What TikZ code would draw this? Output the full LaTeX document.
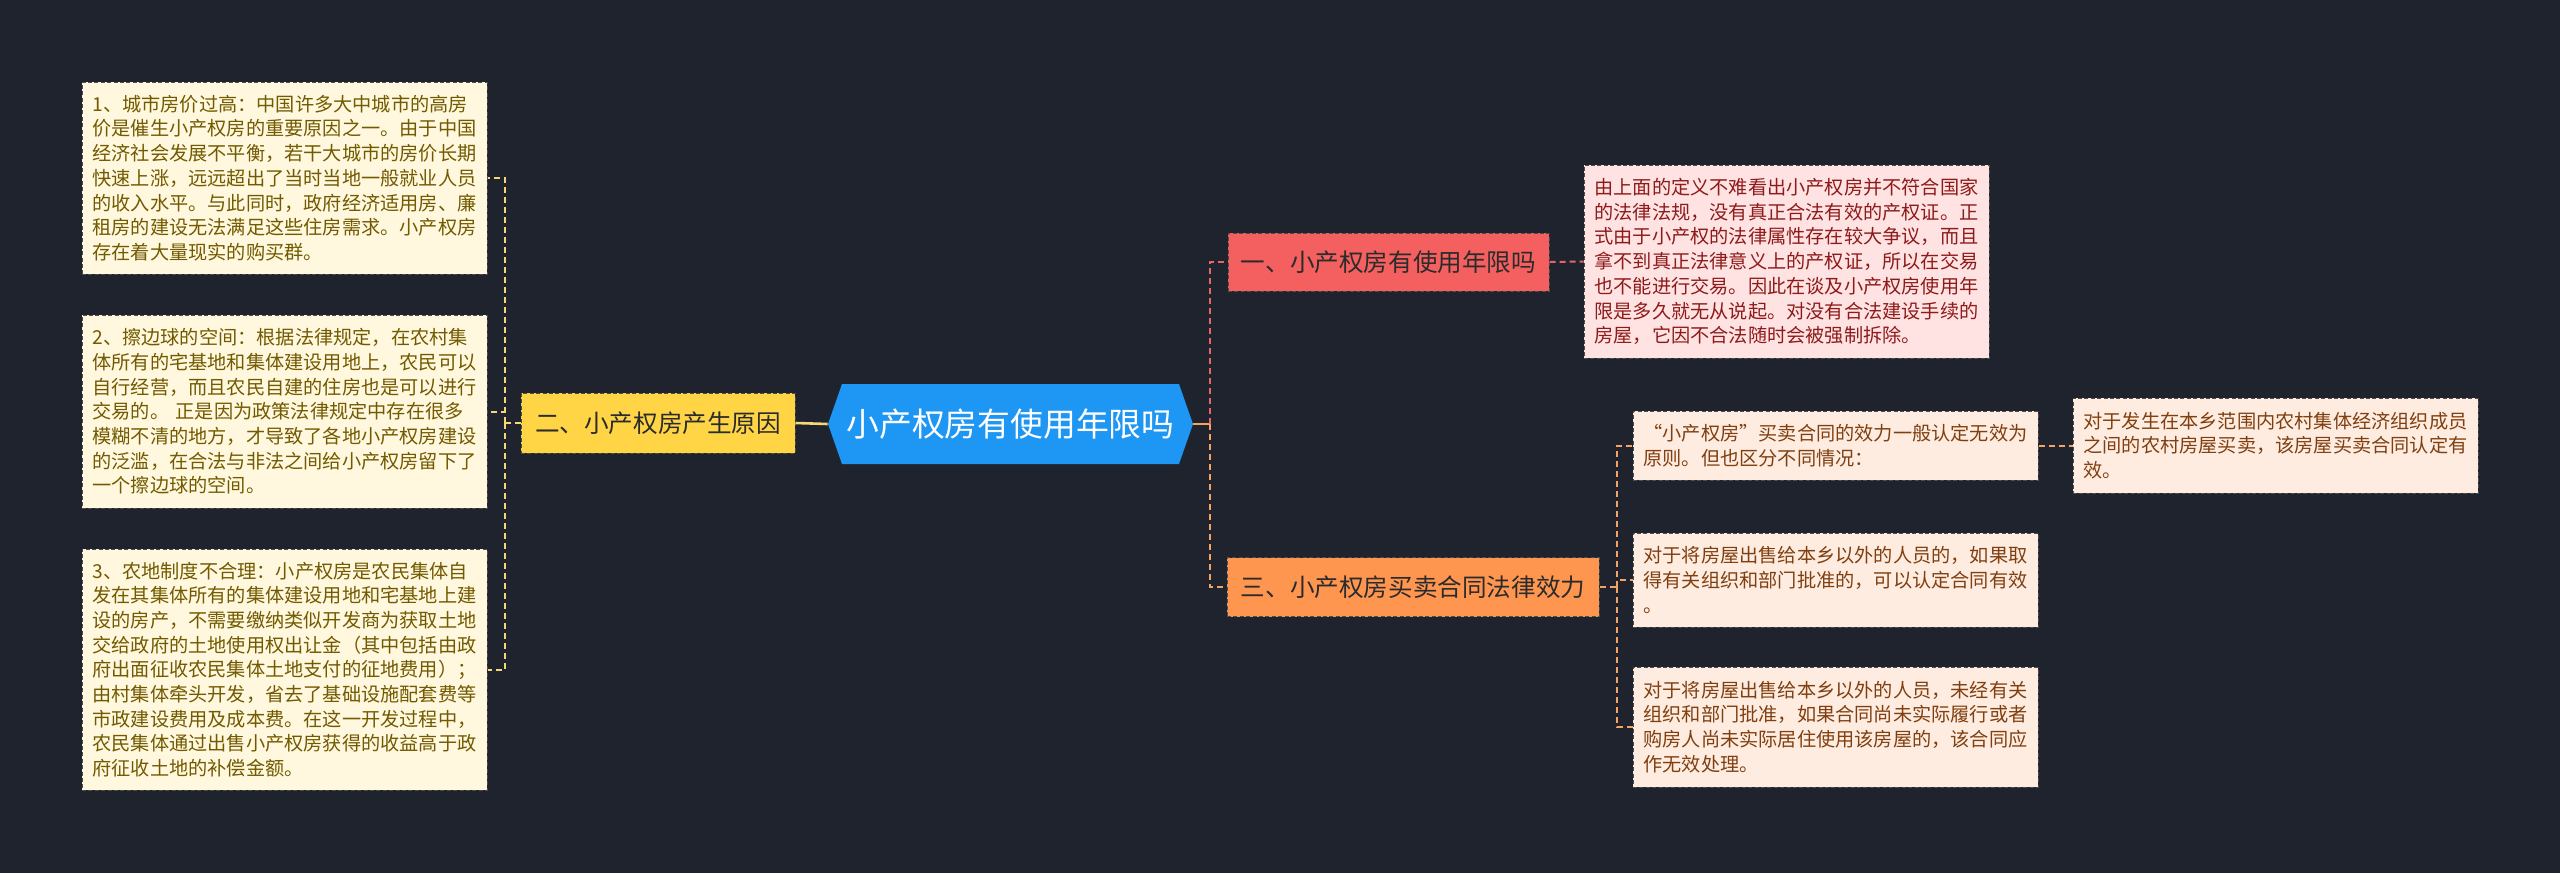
\documentclass[tikz,border=0pt]{standalone}
\usepackage{fontspec}
\setmainfont{Noto Sans CJK SC}
\definecolor{bg}{HTML}{1F232E}
\definecolor{lfill}{HTML}{FFF8DE}
\definecolor{ltext}{HTML}{725A00}
\definecolor{yfill}{HTML}{FFD546}
\definecolor{yline}{HTML}{F7D774}
\definecolor{hexblue}{HTML}{1E96F3}
\definecolor{rfill}{HTML}{F45F5F}
\definecolor{rline}{HTML}{E96565}
\definecolor{rdfill}{HTML}{FFE2E2}
\definecolor{rdtext}{HTML}{8E1B1B}
\definecolor{ofill}{HTML}{FF9650}
\definecolor{oline}{HTML}{F5A263}
\definecolor{odfill}{HTML}{FFECE0}
\definecolor{odtext}{HTML}{7F3F10}
\definecolor{nodetext}{HTML}{2B2B2B}
\tikzset{
  border/.style={draw=black!70, dash pattern=on 2pt off 1.2pt, line width=0.5pt, inner sep=0pt},
  detail/.style={border, text width=192pt, align=left, minimum width=202.5pt,
    font=\fontsize{9.6pt}{12.35pt}\selectfont},
  lbox/.style={detail, fill=lfill, text=ltext},
  rdbox/.style={detail, fill=rdfill, text=rdtext},
  odbox/.style={detail, fill=odfill, text=odtext},
  topic/.style={border, text=nodetext, font=\fontsize{12.3pt}{14pt}\selectfont, minimum height=29.5pt},
  conn/.style={line width=1pt, dash pattern=on 3pt off 2pt},
}
\begin{document}
\begin{tikzpicture}[x=0.5pt,y=-0.5pt]
\fill[bg] (0,0) rectangle (2560,873);
\useasboundingbox (0,0) rectangle (2560,873);

% central hexagon
\fill[hexblue] (828,424) -- (842,384) -- (1179,384) -- (1193,424) -- (1179,464) -- (842,464) -- cycle;
\node[inner sep=0pt, minimum width=182.5pt, minimum height=40pt, text=white,
  font=\fontsize{16.4pt}{18pt}\selectfont] (c) at (1010.5,424) {小产权房有使用年限吗};

% left branch
\node[topic, fill=yfill, minimum width=137pt, minimum height=30pt] (y) at (658,423) {二、小产权房产生原因};

\node[lbox, minimum height=96pt] (b1) at (284.5,178) {1、城市房价过高：中国许多大中城市的高房\\价是催生小产权房的重要原因之一。由于中国\\经济社会发展不平衡，若干大城市的房价长期\\快速上涨，远远超出了当时当地一般就业人员\\的收入水平。与此同时，政府经济适用房、廉\\租房的建设无法满足这些住房需求。小产权房\\存在着大量现实的购买群。};

\node[lbox, minimum height=96.5pt] (b2) at (284.5,411.5) {2、擦边球的空间：根据法律规定，在农村集\\体所有的宅基地和集体建设用地上，农民可以\\自行经营，而且农民自建的住房也是可以进行\\交易的。 正是因为政策法律规定中存在很多\\模糊不清的地方，才导致了各地小产权房建设\\的泛滥，在合法与非法之间给小产权房留下了\\一个擦边球的空间。};

\node[lbox, minimum height=120.5pt] (b3) at (284.5,669.5) {3、农地制度不合理：小产权房是农民集体自\\发在其集体所有的集体建设用地和宅基地上建\\设的房产，不需要缴纳类似开发商为获取土地\\交给政府的土地使用权出让金（其中包括由政\\府出面征收农民集体土地支付的征地费用）；\\由村集体牵头开发，省去了基础设施配套费等\\市政建设费用及成本费。在这一开发过程中，\\农民集体通过出售小产权房获得的收益高于政\\府征收土地的补偿金额。};

% right branch topics
\node[topic, fill=rfill, minimum width=160.5pt, minimum height=29pt] (r) at (1388.5,262) {一、小产权房有使用年限吗};
\node[topic, fill=ofill, minimum width=186pt] (o) at (1413,587) {三、小产权房买卖合同法律效力};

\node[rdbox, minimum height=96.5pt] (rd) at (1786.5,261.5) {由上面的定义不难看出小产权房并不符合国家\\的法律法规，没有真正合法有效的产权证。正\\式由于小产权的法律属性存在较大争议，而且\\拿不到真正法律意义上的产权证，所以在交易\\也不能进行交易。因此在谈及小产权房使用年\\限是多久就无从说起。对没有合法建设手续的\\房屋，它因不合法随时会被强制拆除。};

\node[odbox, minimum height=34.5pt] (c1) at (1835.5,445.5) {“小产权房”买卖合同的效力一般认定无效为\\原则。但也区分不同情况：};
\node[odbox, minimum height=47.5pt] (g) at (2275.5,445.5) {对于发生在本乡范围内农村集体经济组织成员\\之间的农村房屋买卖，该房屋买卖合同认定有\\效。};
\node[odbox, minimum height=47pt] (c2) at (1835.5,580) {对于将房屋出售给本乡以外的人员的，如果取\\得有关组织和部门批准的，可以认定合同有效\\。};
\node[odbox, minimum height=60pt] (c3) at (1835.5,727) {对于将房屋出售给本乡以外的人员，未经有关\\组织和部门批准，如果合同尚未实际履行或者\\购房人尚未实际居住使用该房屋的，该合同应\\作无效处理。};

% connectors
\coordinate (yj) at (505,423);
\coordinate (rj) at (1210,424);
\coordinate (oj) at (1617,587);

\draw[yline, line width=1.3pt] (c.west) -- (y.east);
\draw[yline, conn] (y.west) -- (yj);
\draw[yline, conn] (yj) |- (b1.east);
\draw[yline, conn] (yj) |- (b2.east);
\draw[yline, conn] (yj) |- (b3.east);

\draw[oline, line width=1.1pt] (c.east) -- (rj);
\draw[rline, conn] (rj) |- (r.west);
\draw[oline, conn] (rj) |- (o.west);
\draw[rline, conn] (r.east) -- (rd.west);

\draw[oline, conn] (o.east) -- (oj);
\draw[oline, conn] (oj) |- (c1.west);
\draw[oline, conn] (oj) |- (c2.west);
\draw[oline, conn] (oj) |- (c3.west);
\draw[oline, conn] (c1.east) -- (g.west);
\end{tikzpicture}
\end{document}
